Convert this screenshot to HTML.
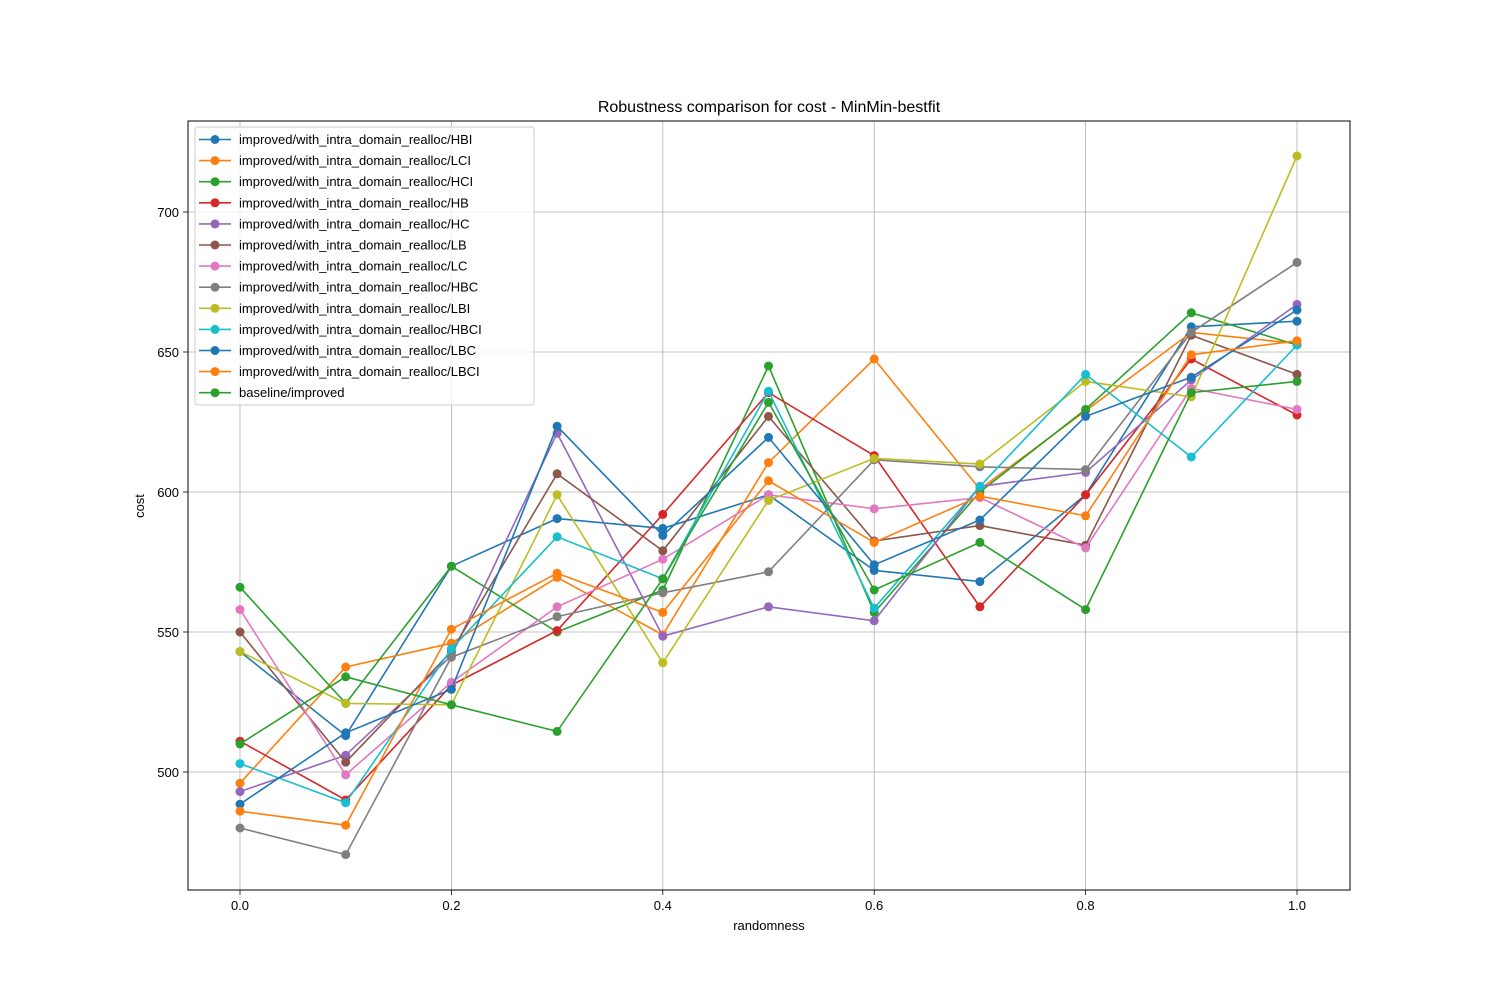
<!DOCTYPE html>
<html><head><meta charset="utf-8"><style>
html,body{margin:0;padding:0;background:#fff;}
svg text{font-family:"Liberation Sans","DejaVu Sans",sans-serif;}
</style></head><body>
<svg id="chart" width="1500" height="1000" xmlns="http://www.w3.org/2000/svg"></svg>
<script>
const seriesNames = ["improved/with_intra_domain_realloc/HBI","improved/with_intra_domain_realloc/LCI","improved/with_intra_domain_realloc/HCI","improved/with_intra_domain_realloc/HB","improved/with_intra_domain_realloc/HC","improved/with_intra_domain_realloc/LB","improved/with_intra_domain_realloc/LC","improved/with_intra_domain_realloc/HBC","improved/with_intra_domain_realloc/LBI","improved/with_intra_domain_realloc/HBCI","improved/with_intra_domain_realloc/LBC","improved/with_intra_domain_realloc/LBCI","baseline/improved"];
const seriesColors = ["#1f77b4","#ff7f0e","#2ca02c","#d62728","#9467bd","#8c564b","#e377c2","#7f7f7f","#bcbd22","#17becf","#1f77b4","#ff7f0e","#2ca02c"];
const xValues = [0,0.1,0.2,0.3,0.4,0.5,0.6,0.7,0.8,0.9,1.0];
const sHBI  = [543,513,573.5,590.5,587,599,572,568,599,659,661];
const sLCI  = [496,537.5,546,569.5,549,610.5,647.5,601,629,657,653];
const sHCI  = [566,524.5,573.5,550,565,645,557,600,629.5,664,652.5];
const sHB   = [511,490,531,550.5,592,635.5,613,559,599,647.5,627.5];
const sHC   = [493,506,541.5,621,548.5,559,554,602,607,640,667];
const sLB   = [550,503.5,543,606.5,579,627,582.5,588,581,656,642];
const sLC   = [558,499,532,559,576,599,594,598,580,637,629.5];
const sHBC  = [480,470.5,541,555.5,564,571.5,611.5,609,608,657,682];
const sLBI  = [543,524.5,524,599,539,597,612,610,639.5,634,720];
const sHBCI = [503,489,544,584,569,636,558.5,602,642,612.5,652.5];
const sLBC  = [488.5,514,529.5,623.5,584.5,619.5,574,590,627,641,665];
const sLBCI = [486,481,551,571,557,604,582,598.5,591.5,649,654];
const sBase = [510,534,524,514.5,569,632,565,582,558,635.5,639.5];
const allSeries = [sHBI,sLCI,sHCI,sHB,sHC,sLB,sLC,sHBC,sLBI,sHBCI,sLBC,sLBCI,sBase];
const xTicks = [0,0.2,0.4,0.6,0.8,1.0];
const xTickLabels = ["0.0","0.2","0.4","0.6","0.8","1.0"];
const yTicks = [500,550,600,650,700];

const L=188,R=1350,T=121,B=890;
function xs(v){return 240+v*1057;}
function ys(v){return 772-(v-500)*2.8;}
const svg=document.getElementById('chart');
const NS="http://www.w3.org/2000/svg";
function mk(tag,attrs,parent){const e=document.createElementNS(NS,tag);for(const k in attrs)e.setAttribute(k,attrs[k]);(parent||svg).appendChild(e);return e;}

xTicks.forEach((t,i)=>{
  const g=mk('line',{x1:xs(t),x2:xs(t),y1:T,y2:B,stroke:'#b0b0b0','stroke-width':0.8});
  
  
  mk('line',{x1:xs(t),x2:xs(t),y1:B,y2:B+5,stroke:'#000','stroke-width':0.8});
  const tx=mk('text',{x:xs(t),y:B+20,'font-size':13,'text-anchor':'middle'});
  tx.textContent=xTickLabels[i];
  
  
});
yTicks.forEach(t=>{
  const g=mk('line',{x1:L,x2:R,y1:ys(t),y2:ys(t),stroke:'#b0b0b0','stroke-width':0.8});
  
  
  mk('line',{x1:L-5,x2:L,y1:ys(t),y2:ys(t),stroke:'#000','stroke-width':0.8});
  const tx=mk('text',{x:L-9,y:ys(t)+5,'font-size':13,'text-anchor':'end'});
  tx.textContent=t;
  
  
});

allSeries.forEach((s,si)=>{
  const g=mk('g',{});
  
  
  const pts=s.map((v,i)=>xs(xValues[i])+','+ys(v)).join(' ');
  mk('polyline',{points:pts,fill:'none',stroke:seriesColors[si],'stroke-width':1.6},g);
  s.forEach((v,i)=>{
    const c=mk('circle',{cx:xs(xValues[i]),cy:ys(v),r:4.5,fill:seriesColors[si]},g);
    
    
  });
});

const fr=mk('rect',{x:L,y:T,width:R-L,height:B-T,fill:'none',stroke:'#000','stroke-width':1});



const ti=mk('text',{x:769,y:112,'font-size':16,'text-anchor':'middle'});
ti.textContent='Robustness comparison for cost - MinMin-bestfit';


const xl=mk('text',{x:769,y:930,'font-size':13,'text-anchor':'middle'});
xl.textContent='randomness';


const yl=mk('text',{x:0,y:0,'font-size':13,'text-anchor':'middle',transform:'translate(144,506) rotate(-90)'});
yl.textContent='cost';



const lg=mk('g',{});


mk('rect',{x:195,y:127,width:339,height:278,rx:3,fill:'#fff','fill-opacity':0.8,stroke:'#ccc','stroke-width':1},lg);
seriesNames.forEach((n,i)=>{
  const y=139.5+i*21.1;
  const e=mk('g',{},lg);
  
  
  mk('line',{x1:199,x2:231,y1:y,y2:y,stroke:seriesColors[i],'stroke-width':1.6},e);
  mk('circle',{cx:215,cy:y,r:4.5,fill:seriesColors[i]},e);
  const t=mk('text',{x:239,y:y+4.5,'font-size':13},e);
  t.textContent=n;
});
</script>
</body></html>
